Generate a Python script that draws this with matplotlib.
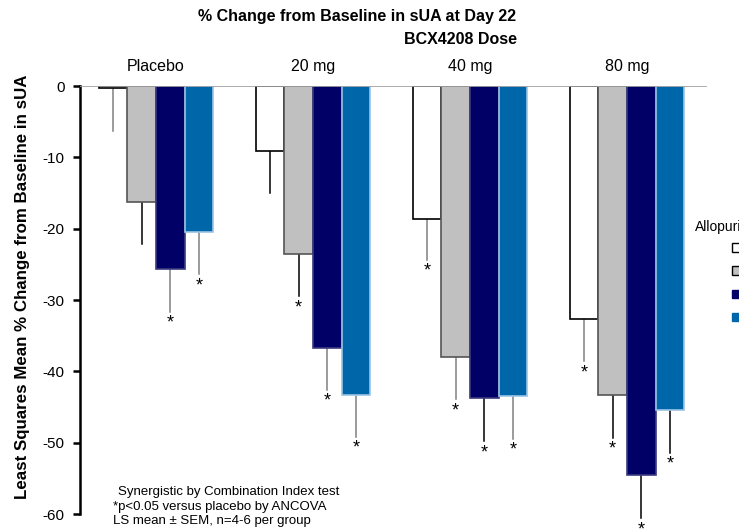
import numpy as np
import matplotlib
matplotlib.use("Agg")
import matplotlib.pyplot as plt
from matplotlib.patches import Patch

plt.rcParams["font.family"] = ["Liberation Sans", "DejaVu Sans"]
plt.rcParams["axes.unicode_minus"] = False

# BCX4208 dose groups, allopurinol dose series
doses = ["Placebo", "20 mg", "40 mg", "80 mg"]
allo_labels = ["0 mg", "100 mg", "200 mg", "300 mg"]

# LS mean % change from baseline (rows = allopurinol series, cols = BCX4208 dose)
means = np.array([
    [-0.3, -9.1, -18.6, -32.6],
    [-16.3, -23.6, -38.0, -43.3],
    [-25.7, -36.7, -43.7, -54.5],
    [-20.4, -43.3, -43.5, -45.4],
])
sems = np.array([
    [6.0, 5.9, 5.8, 6.0],
    [5.9, 5.9, 5.9, 6.0],
    [6.0, 5.9, 6.1, 6.1],
    [6.0, 5.9, 6.0, 6.0],
])
# significant vs placebo (p<0.05)
signif = np.array([
    [0, 0, 1, 1],
    [0, 1, 1, 1],
    [1, 1, 1, 1],
    [1, 1, 1, 1],
], dtype=bool)

face = ["white", "#C0C0C0", "#000066", "#0066AA"]
edge = ["black", "#555555", "#3a3a80", "#9cc4e4"]
err_col = [
    ["#808080", "black", "#808080", "#808080"],
    ["black", "black", "#808080", "#808080"],
    ["#808080", "#808080", "black", "#808080"],
    ["#808080", "black", "black", "black"],
]

fig = plt.figure(figsize=(7.39, 5.32), dpi=100)
ax = fig.add_axes([80 / 739, 1 - 514 / 532, (707 - 80) / 739, (514 - 86) / 532])

x = np.arange(len(doses))
w = 0.182
for i in range(4):
    xs = x + (i - 1.5) * w
    ax.bar(xs, means[i], w, color=face[i], edgecolor=edge[i], lw=1.2, zorder=2)
    for j in range(4):
        lo = means[i, j] - sems[i, j]
        ax.plot([xs[j], xs[j]], [means[i, j], lo], color=err_col[j][i], lw=1.1,
                zorder=1, clip_on=False)
        if signif[i, j]:
            ax.text(xs[j], lo - 0.4, "*", ha="center", va="top", fontsize=13,
                    clip_on=False)

ax.axhline(0, color="#a0a0a0", lw=1.2, zorder=3)
ax.set_xlim(-0.484, 3.51)
ax.set_ylim(-60, 0)
ax.set_yticks(np.arange(-60, 1, 10))
ax.set_xticks([])
for s in ["top", "right", "bottom"]:
    ax.spines[s].set_visible(False)
ax.spines["left"].set_linewidth(1.8)
ax.tick_params(axis="y", direction="out", length=5, width=1.8, labelsize=11, pad=6)
ax.set_ylabel("Least Squares Mean % Change from Baseline in sUA",
              fontsize=12.2, fontweight="bold")
ax.yaxis.set_label_coords(-0.08, 0.53)

for j, d in enumerate(doses):
    ax.text(x[j], 1.7, d, ha="center", va="bottom", fontsize=11.5, clip_on=False)

fig.text(357 / 739, 1 - 17 / 532, "% Change from Baseline in sUA at Day 22",
         ha="center", va="center", fontsize=11.5, fontweight="bold")
fig.text(461 / 739, 1 - 40 / 532, "BCX4208 Dose", ha="center", va="center",
         fontsize=11.5, fontweight="bold")

notes = ["Synergistic by Combination Index test",
         "*p<0.05 versus placebo by ANCOVA",
         "LS mean \u00b1 SEM, n=4-6 per group"]
fig.text(118 / 739, 1 - 492 / 532, notes[0], ha="left", va="center", fontsize=9.5)
fig.text(113 / 739, 1 - 507 / 532, notes[1], ha="left", va="center", fontsize=9.5)
fig.text(113 / 739, 1 - 521 / 532, notes[2], ha="left", va="center", fontsize=9.5)

# legend runs off the right edge of the slide crop
fig.text(695 / 739, 1 - 227 / 532, "Allopurinol", ha="left", va="center", fontsize=10)
handles = [Patch(facecolor=face[i], edgecolor="black" if i < 2 else face[i])
           for i in range(4)]
fig.legend(handles, allo_labels, loc="upper left",
           bbox_to_anchor=(732 / 739, 1 - 243 / 532), frameon=False,
           handlelength=0.6, handleheight=0.6, labelspacing=0.85, fontsize=9.5,
           borderpad=0, borderaxespad=0)

fig.savefig("out.png", dpi=100)
